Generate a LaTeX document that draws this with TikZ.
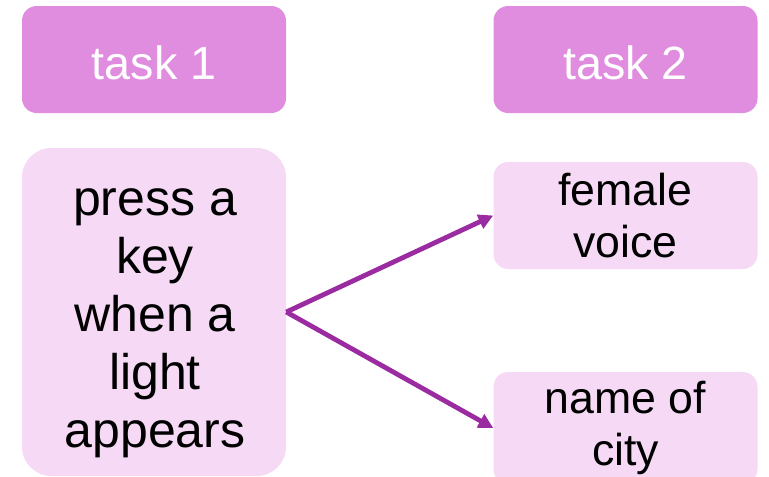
\documentclass[tikz,border=0pt]{standalone}
\usepackage{fontspec}
\setmainfont{Liberation Sans}
\usetikzlibrary{positioning, arrows.meta}

\definecolor{taskpink}{HTML}{E08DE0}
\definecolor{itempink}{HTML}{F5D9F5}
\definecolor{linkpurple}{HTML}{9B2BA0}

\begin{document}
\begin{tikzpicture}[
    x=0.75pt, y=-0.75pt,
    taskbox/.style={rectangle, rounded corners=11pt, fill=taskpink, text=white,
        minimum width=198pt, minimum height=80.25pt, inner sep=0pt,
        text height=30.5pt, text depth=0pt, font=\fontsize{35}{42}\selectfont},
    itembox/.style={rectangle, rounded corners=11pt, fill=itempink, text=black,
        minimum width=198pt, minimum height=80.25pt, inner sep=0pt, align=center,
        font=\fontsize{33.5}{39}\selectfont},
    >={Triangle[length=11pt, width=11pt]},
]

    \useasboundingbox (0,0) rectangle (769,476);
    \clip (0,0) rectangle (769,476);

    % headers
    \node[taskbox] (task1) at (154,59.5) {task 1};
    \node[taskbox] (task2) at (625.5,59.5) {task 2};

    % stimulus box, its text set a little lower and larger
    \node[itembox, rounded corners=22pt, minimum height=246pt] (light) at (154,312) {};
    \node[align=center, inner sep=0pt, font=\fontsize{37.5}{43.5}\selectfont] (lighttext)
        at (155,323) {press a\\key\\when a\\light\\appears};

    % responses
    \node[itembox] (voice) at (625.5,215.5) {female\\voice};
    \node[itembox, minimum height=84pt] (city) at (625.5,428) {name of\\city};

    \draw[->, line width=3.6pt, linkpurple] (light.east) -- (voice.west);
    \draw[->, line width=3.6pt, linkpurple] (light.east) -- (city.west);

\end{tikzpicture}
\end{document}
